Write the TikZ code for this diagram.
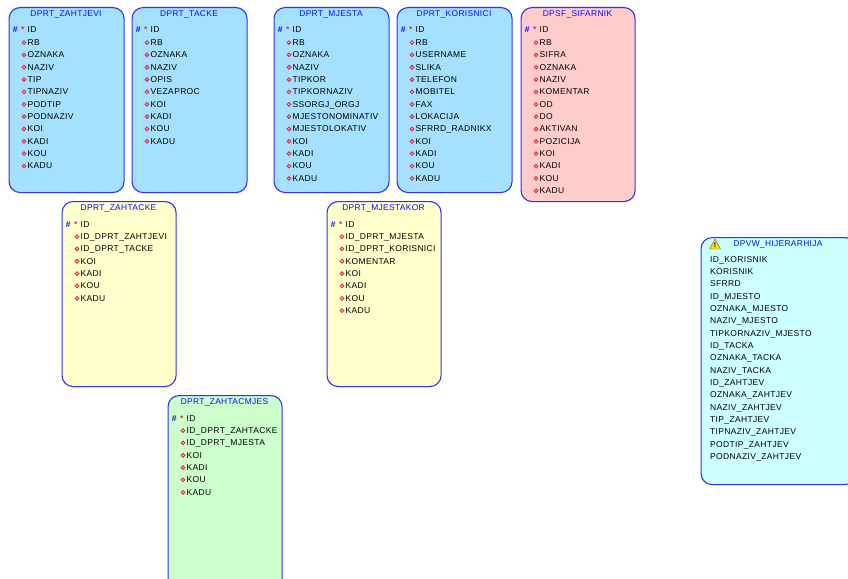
\documentclass[tikz,border=0pt]{standalone}
\usepackage{fontspec}
\setmainfont[LetterSpace=4]{Liberation Sans}
\definecolor{edgeblue}{RGB}{50,50,245}
\definecolor{titleblue}{RGB}{10,10,250}
\definecolor{keyred}{RGB}{225,50,70}
\definecolor{cblue}{RGB}{165,224,255}
\definecolor{cpink}{RGB}{255,204,204}
\definecolor{cyellow}{RGB}{255,255,204}
\definecolor{cgreen}{RGB}{204,255,204}
\definecolor{ccyan}{RGB}{204,255,255}
\tikzset{
  entitybox/.style={draw=edgeblue,line width=1.1pt,rounded corners=11pt},
  titletext/.style={font=\fontsize{8.4}{9}\selectfont,text=titleblue,anchor=base,inner sep=0pt},
  rowtext/.style={font=\fontsize{8.5}{10}\selectfont,text=black,anchor=base west,inner sep=0pt},
  hashmark/.style={font=\bfseries\fontsize{8.5}{10}\selectfont,text=titleblue,anchor=base west,inner sep=0pt},
  starmark/.style={font=\bfseries\fontsize{8.5}{10}\selectfont,text=keyred,anchor=base west,inner sep=0pt},
  optmark/.style={circle,draw=keyred,line width=1pt,minimum size=3.6pt,inner sep=0pt},
}
% #1 name, #2 x1, #3 y1, #4 x2, #5 y2, #6 fill, #7 title, #8 non-key columns
\newcommand{\tablebox}[8]{%
  \node[entitybox,fill=#6,anchor=north west,minimum width=#4pt-#2pt,minimum height=#5pt-#3pt,inner sep=0pt] (#1) at (#2-0.5,#3) {};
  \node[titletext] (#1-title) at ({(#2+#4)/2-0.5},#3+9.7) {#7};
  \node[hashmark] (#1-hash) at (#2+3.7,#3+26) {\#};
  \node[starmark] (#1-star) at (#2+12,#3+26) {*};
  \node[rowtext] (#1-id) at (#2+18.5,#3+26) {ID};
  \foreach \c [count=\i] in {#8}{
    \node[optmark] (#1-o\i) at (#2+15,#3+23.2+\i*12.35) {};
    \node[rowtext] (#1-r\i) at (#2+18.5,#3+26+\i*12.35) {\c};
  }
}
\begin{document}
\begin{tikzpicture}[x=1pt,y=-1pt]
\useasboundingbox (0,0) rectangle (848,578);
\clip (0,0) rectangle (848,578);
\fill[white] (0,0) rectangle (848,578);
\tablebox{zahtjevi}{9}{7}{124}{192}{cblue}{DPRT\_ZAHTJEVI}{RB,OZNAKA,NAZIV,TIP,TIPNAZIV,PODTIP,PODNAZIV,KOI,KADI,KOU,KADU}
\tablebox{tacke}{132}{7}{247}{192}{cblue}{DPRT\_TACKE}{RB,OZNAKA,NAZIV,OPIS,VEZAPROC,KOI,KADI,KOU,KADU}
\tablebox{mjesta}{274}{7}{389}{192}{cblue}{DPRT\_MJESTA}{RB,OZNAKA,NAZIV,TIPKOR,TIPKORNAZIV,SSORGJ\_ORGJ,MJESTONOMINATIV,MJESTOLOKATIV,KOI,KADI,KOU,KADU}
\tablebox{korisnici}{397}{7}{512}{192}{cblue}{DPRT\_KORISNICI}{RB,USERNAME,SLIKA,TELEFON,MOBITEL,FAX,LOKACIJA,SFRRD\_RADNIKX,KOI,KADI,KOU,KADU}
\tablebox{sifarnik}{521}{7}{635}{201}{cpink}{DPSF\_SIFARNIK}{RB,SIFRA,OZNAKA,NAZIV,KOMENTAR,OD,DO,AKTIVAN,POZICIJA,KOI,KADI,KOU,KADU}
\tablebox{zahtacke}{62}{201}{176}{386}{cyellow}{DPRT\_ZAHTACKE}{ID\_DPRT\_ZAHTJEVI,ID\_DPRT\_TACKE,KOI,KADI,KOU,KADU}
\tablebox{mjestakor}{327}{201}{441}{386}{cyellow}{DPRT\_MJESTAKOR}{ID\_DPRT\_MJESTA,ID\_DPRT\_KORISNICI,KOMENTAR,KOI,KADI,KOU,KADU}
\tablebox{zahtacmjes}{168}{395}{282}{590}{cgreen}{DPRT\_ZAHTACMJES}{ID\_DPRT\_ZAHTACKE,ID\_DPRT\_MJESTA,KOI,KADI,KOU,KADU}
% view
\node[entitybox,fill=ccyan,anchor=north west,minimum width=155pt,minimum height=247pt,inner sep=0pt] (view) at (700.5,237) {};
\node[titletext] (view-title) at (778,246.3) {DPVW\_HIJERARHIJA};
\draw[draw=black!60,fill=yellow!85!orange,line width=0.4pt,line join=round] (715,239) -- (720.5,249) -- (709.5,249) -- cycle;
\node[font=\bfseries\fontsize{7}{8}\selectfont,inner sep=0pt] (view-warn) at (715,245.3) {!};
\foreach \c [count=\i from 0] in {ID\_KORISNIK,KORISNIK,SFRRD,ID\_MJESTO,OZNAKA\_MJESTO,NAZIV\_MJESTO,TIPKORNAZIV\_MJESTO,ID\_TACKA,OZNAKA\_TACKA,NAZIV\_TACKA,ID\_ZAHTJEV,OZNAKA\_ZAHTJEV,NAZIV\_ZAHTJEV,TIP\_ZAHTJEV,TIPNAZIV\_ZAHTJEV,PODTIP\_ZAHTJEV,PODNAZIV\_ZAHTJEV}{
  \node[rowtext] (view-r\i) at (710,262+\i*12.35) {\c};
}
\end{tikzpicture}
\end{document}
